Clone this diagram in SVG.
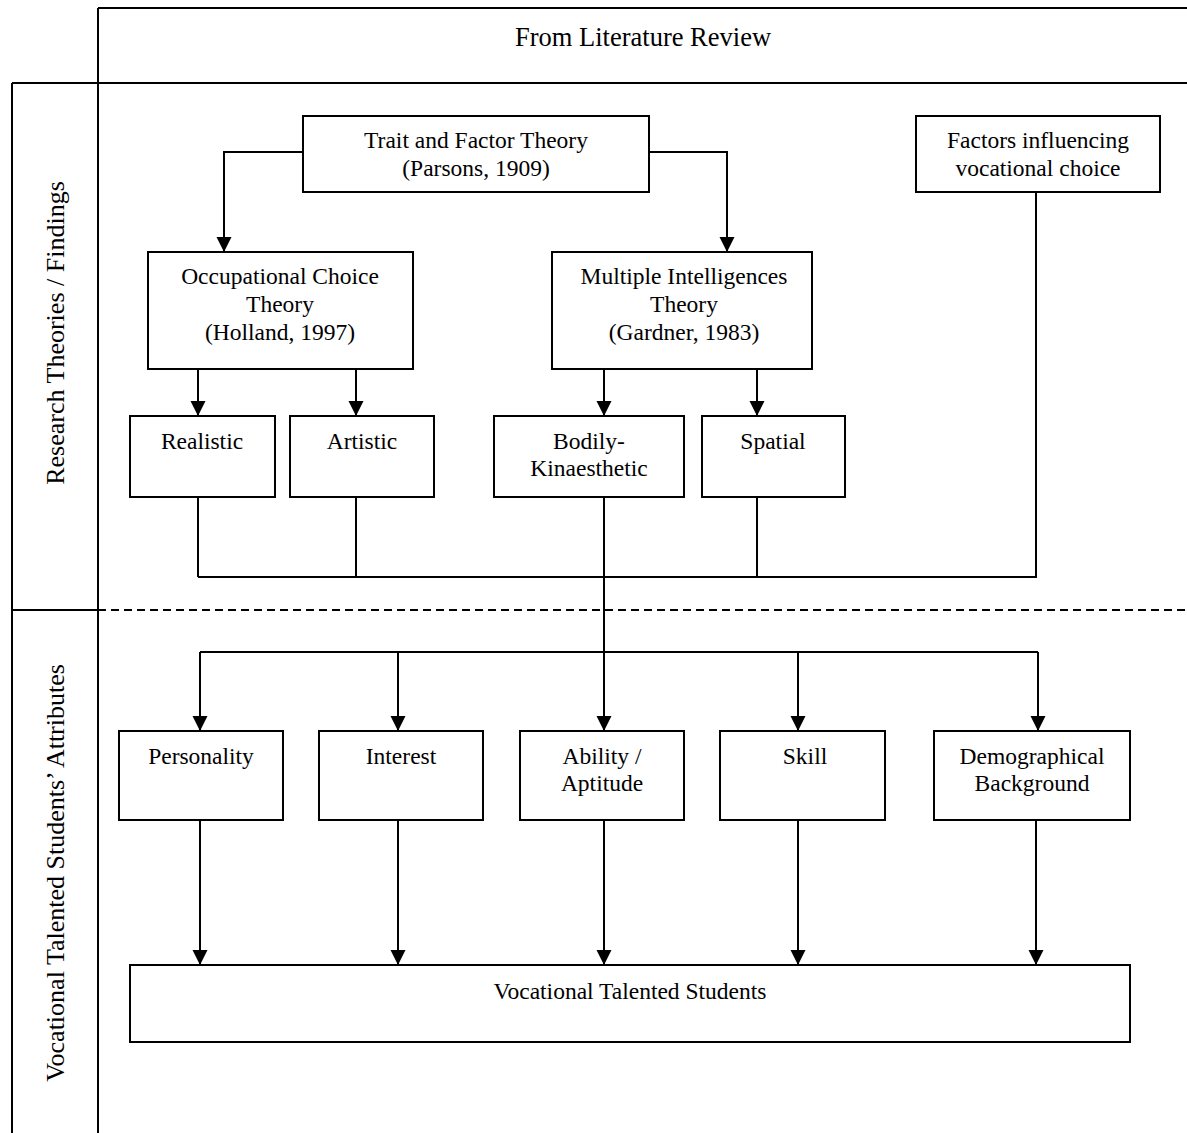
<svg xmlns="http://www.w3.org/2000/svg" width="1187" height="1133" viewBox="0 0 1187 1133">
<style>
  .frame { stroke: #000; stroke-width: 2; fill: none; }
  .box { fill: #fff; stroke: #000; stroke-width: 2; }
  .conn { stroke: #000; stroke-width: 2; fill: none; }
  .arr { stroke: #000; stroke-width: 2; fill: none; marker-end: url(#ah); }
  text { font-family: "Liberation Serif", "Times New Roman", serif; font-size: 23.5px; fill: #000; text-anchor: middle; }
  .big { font-size: 26.5px; }
  .side { font-size: 26px; }
</style>
<defs>
  <marker id="ah" markerUnits="userSpaceOnUse" markerWidth="16" markerHeight="16" viewBox="0 0 16 16" refX="15" refY="8" orient="auto">
    <path d="M0,0.5 L15,8 L0,15.5 z" fill="#000"/>
  </marker>
</defs>
<rect width="1187" height="1133" fill="#fff"/>
<g id="frame">
  <line class="frame" x1="98" y1="8" x2="1187" y2="8"/>
  <line class="frame" x1="98" y1="8" x2="98" y2="1133"/>
  <line class="frame" x1="12" y1="83" x2="1187" y2="83"/>
  <line class="frame" x1="12" y1="83" x2="12" y2="1133"/>
  <line class="frame" x1="12" y1="610" x2="98" y2="610"/>
  <line class="frame" x1="98" y1="610" x2="1187" y2="610" stroke-dasharray="8 5"/>
  <text class="big" x="643" y="46">From Literature Review</text>
  <text class="side" transform="translate(64,333) rotate(-90)">Research Theories / Findings</text>
  <text class="side" transform="translate(64,873) rotate(-90)">Vocational Talented Students’ Attributes</text>
</g>
<g id="connectors">
  <polyline class="arr" points="303,152 224,152 224,252"/>
  <polyline class="arr" points="649,152 727,152 727,252"/>
  <line class="arr" x1="198" y1="369" x2="198" y2="416"/>
  <line class="arr" x1="356" y1="369" x2="356" y2="416"/>
  <line class="arr" x1="604" y1="369" x2="604" y2="416"/>
  <line class="arr" x1="757" y1="369" x2="757" y2="416"/>
  <line class="conn" x1="198" y1="497" x2="198" y2="577"/>
  <line class="conn" x1="356" y1="497" x2="356" y2="577"/>
  <line class="conn" x1="757" y1="497" x2="757" y2="577"/>
  <line class="conn" x1="1036" y1="192" x2="1036" y2="577"/>
  <line class="conn" x1="198" y1="577" x2="1037" y2="577"/>
  <line class="arr" x1="604" y1="497" x2="604" y2="731"/>
  <line class="conn" x1="200" y1="652" x2="1038" y2="652"/>
  <line class="arr" x1="200" y1="652" x2="200" y2="731"/>
  <line class="arr" x1="398" y1="652" x2="398" y2="731"/>
  <line class="arr" x1="798" y1="652" x2="798" y2="731"/>
  <line class="arr" x1="1038" y1="652" x2="1038" y2="731"/>
  <line class="arr" x1="200" y1="820" x2="200" y2="965"/>
  <line class="arr" x1="398" y1="820" x2="398" y2="965"/>
  <line class="arr" x1="604" y1="820" x2="604" y2="965"/>
  <line class="arr" x1="798" y1="820" x2="798" y2="965"/>
  <line class="arr" x1="1036" y1="820" x2="1036" y2="965"/>
</g>
<g id="trait">
  <rect class="box" x="303" y="116" width="346" height="76"/>
  <text x="476" y="148">Trait and Factor Theory</text>
  <text x="476" y="176">(Parsons, 1909)</text>
</g>
<g id="factors">
  <rect class="box" x="916" y="116" width="244" height="76"/>
  <text x="1038" y="148">Factors influencing</text>
  <text x="1038" y="176">vocational choice</text>
</g>
<g id="occupational">
  <rect class="box" x="148" y="252" width="265" height="117"/>
  <text x="280" y="284">Occupational Choice</text>
  <text x="280" y="312">Theory</text>
  <text x="280" y="340">(Holland, 1997)</text>
</g>
<g id="multiple">
  <rect class="box" x="552" y="252" width="260" height="117"/>
  <text x="684" y="284">Multiple Intelligences</text>
  <text x="684" y="312">Theory</text>
  <text x="684" y="340">(Gardner, 1983)</text>
</g>
<g id="realistic">
  <rect class="box" x="130" y="416" width="145" height="81"/>
  <text x="202" y="449">Realistic</text>
</g>
<g id="artistic">
  <rect class="box" x="290" y="416" width="144" height="81"/>
  <text x="362" y="449">Artistic</text>
</g>
<g id="bodily">
  <rect class="box" x="494" y="416" width="190" height="81"/>
  <text x="589" y="449">Bodily-</text>
  <text x="589" y="476">Kinaesthetic</text>
</g>
<g id="spatial">
  <rect class="box" x="702" y="416" width="143" height="81"/>
  <text x="773" y="449">Spatial</text>
</g>
<g id="personality">
  <rect class="box" x="119" y="731" width="164" height="89"/>
  <text x="201" y="764">Personality</text>
</g>
<g id="interest">
  <rect class="box" x="319" y="731" width="164" height="89"/>
  <text x="401" y="764">Interest</text>
</g>
<g id="ability">
  <rect class="box" x="520" y="731" width="164" height="89"/>
  <text x="602" y="764">Ability /</text>
  <text x="602" y="791">Aptitude</text>
</g>
<g id="skill">
  <rect class="box" x="720" y="731" width="165" height="89"/>
  <text x="805" y="764">Skill</text>
</g>
<g id="demographical">
  <rect class="box" x="934" y="731" width="196" height="89"/>
  <text x="1032" y="764">Demographical</text>
  <text x="1032" y="791">Background</text>
</g>
<g id="vocational">
  <rect class="box" x="130" y="965" width="1000" height="77"/>
  <text x="630" y="999">Vocational Talented Students</text>
</g>
</svg>
